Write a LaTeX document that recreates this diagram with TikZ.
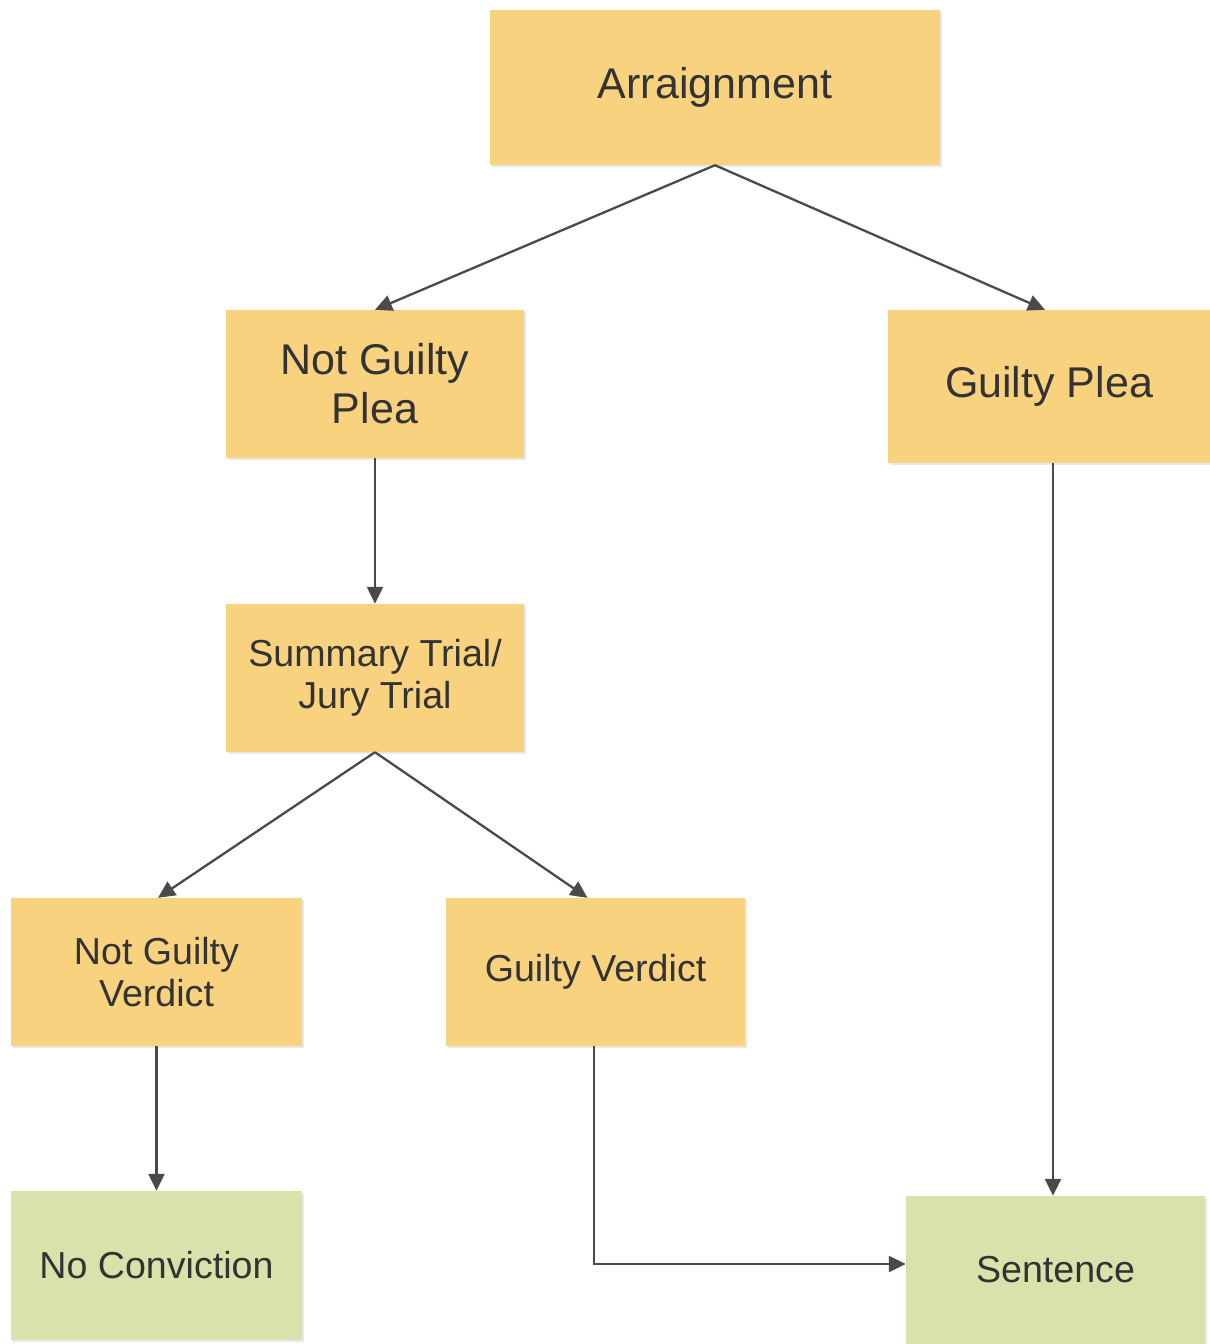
\documentclass[tikz,border=0pt]{standalone}
\usepackage{fontspec}
\setmainfont{Liberation Sans}
\usetikzlibrary{arrows.meta,shadows,calc}
\definecolor{boxorange}{HTML}{F8D27F}
\definecolor{boxgreen}{HTML}{D7E3AA}
\definecolor{txt}{HTML}{333333}
\definecolor{edge}{HTML}{4A4A4A}
\begin{document}
\begin{tikzpicture}[x=1pt,y=-1pt,
  box/.style={draw=none, align=center, text=txt, inner sep=0pt,
    drop shadow={opacity=0.18, shadow xshift=2pt, shadow yshift=-2pt}},
  obox/.style={box, fill=boxorange},
  gbox/.style={box, fill=boxgreen},
  big/.style={font=\fontsize{43}{49}\selectfont},
  small/.style={font=\fontsize{37.6}{42.5}\selectfont},
  conn/.style={draw=edge, line width=2.3pt, -{Triangle[length=17pt,width=16pt]}}
]
\useasboundingbox (0,0) rectangle (1210,1344);
\fill[white] (0,0) rectangle (1210,1344);

\node[obox,big,minimum width=450pt,minimum height=155pt] (arr) at (715,87.5) {Arraignment};
\node[obox,big,minimum width=298pt,minimum height=148pt] (ngp) at (375,384) {Not Guilty\\Plea};
\node[obox,big,minimum width=322pt,minimum height=153pt] (gp) at (1049,386.5) {Guilty Plea};
\node[obox,small,minimum width=298pt,minimum height=148pt] (st) at (375,678) {Summary Trial/\\Jury Trial};
\node[obox,small,minimum width=291pt,minimum height=148pt] (ngv) at (156.5,972) {Not Guilty\\Verdict};
\node[obox,small,minimum width=299pt,minimum height=148pt] (gv) at (595.5,972) {Guilty Verdict};
\node[gbox,small,minimum width=291pt,minimum height=149pt] (nc) at (156.5,1265.5) {No Conviction};
\node[gbox,small,minimum width=299pt,minimum height=148pt] (sen) at (1055.5,1270) {Sentence};

\draw[conn] (arr.south) -- (ngp.north);
\draw[conn] (arr.south) -- ([xshift=-4pt]gp.north);
\draw[conn] (ngp.south) -- (st.north);
\draw[conn] (st.south) -- ([xshift=1.5pt]ngv.north);
\draw[conn] (st.south) -- ([xshift=-8pt]gv.north);
\draw[conn] (ngv.south) -- (nc.north);
\draw[conn] ([xshift=-1.5pt]gv.south) |- ([yshift=6pt]sen.west);
\draw[conn] ([xshift=4pt]gp.south) -- ([xshift=-2.5pt]sen.north);
\end{tikzpicture}
\end{document}
